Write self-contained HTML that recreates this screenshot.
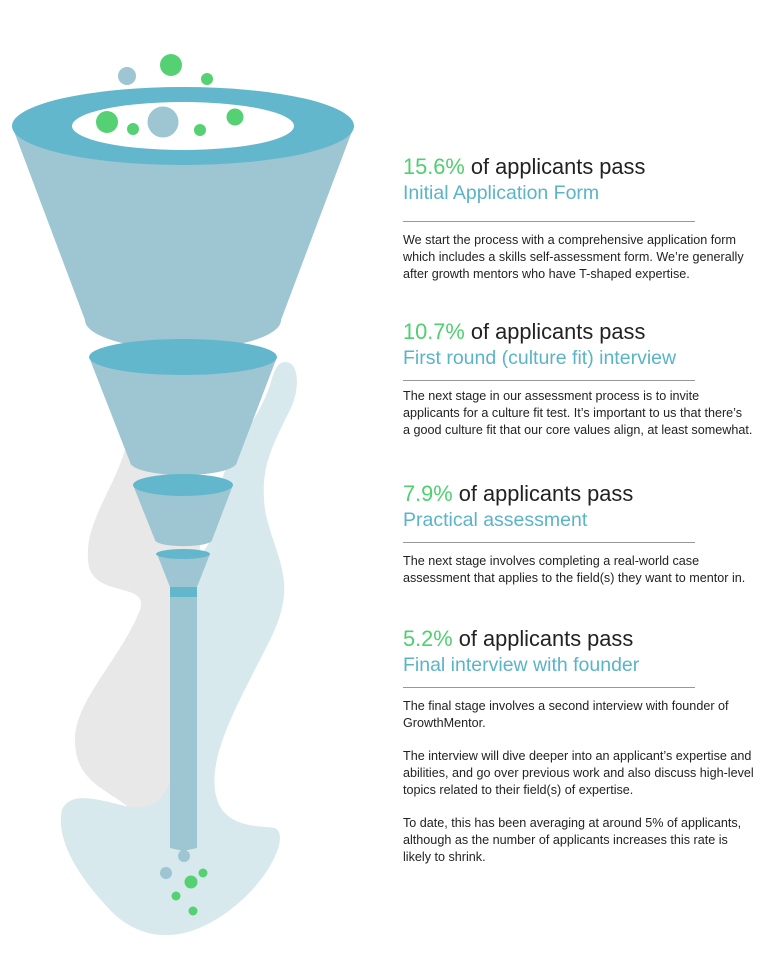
<!DOCTYPE html>
<html><head><meta charset="utf-8"><style>
body{margin:0;width:779px;height:973px;background:#fff;position:relative;overflow:hidden;font-family:"Liberation Sans",sans-serif}
.h{position:absolute;left:403px;font-size:21.8px;line-height:26px;color:#222;white-space:nowrap}
.h b{color:#4fcf6f;font-weight:normal}
.s{position:absolute;left:403px;font-size:19.5px;line-height:24px;color:#5ab4c8;white-space:nowrap}
.l{position:absolute;left:403px;width:292px;height:1px;background:#999}
.p{position:absolute;left:403px;font-size:12.6px;line-height:17px;color:#222;white-space:nowrap}
.p .g{height:16px}
</style></head><body>
<svg width="779" height="973" style="position:absolute;left:0;top:0">
<path d="M128 440 C115 490 85 520 88 560 C90 600 150 580 140 610 C120 660 75 700 75 740 C75 790 120 790 140 820 L200 820 L200 440 Z" fill="#e8e8e8"/>
<path d="M285 362 C300 362 300 390 290 410 C270 450 260 470 265 510 C275 560 300 580 270 640 C240 700 210 750 215 790 C220 830 260 825 275 828 C290 835 270 880 230 910 C190 940 150 945 115 915 C80 880 55 840 62 810 C70 790 100 800 125 806 C150 812 165 800 170 780 L170 600 C200 550 222 540 220 500 C218 460 255 430 270 385 C274 370 278 362 285 362 Z" fill="#d8e9ee"/>
<path d="M12 126 L85 320 A97 29 0 0 0 281 320 L354 126 Z" fill="#9dc5d2"/>
<ellipse cx="183" cy="126" rx="171" ry="39" fill="#62b7cc"/>
<ellipse cx="183" cy="126" rx="111" ry="24" fill="#fff"/>
<path d="M89 357 L130 462 A53 13 0 0 0 237 462 L277 357 Z" fill="#9dc5d2"/>
<ellipse cx="183" cy="357" rx="94" ry="18" fill="#62b7cc"/>
<path d="M133 485 L155 540 A28 6 0 0 0 212 540 L233 485 Z" fill="#9dc5d2"/>
<ellipse cx="183" cy="485" rx="50" ry="11" fill="#62b7cc"/>
<path d="M157 554 L170 587 L197 587 L210 554 Z" fill="#9dc5d2"/>
<ellipse cx="183" cy="554" rx="27" ry="5" fill="#62b7cc"/>
<rect x="170" y="587" width="27" height="10" fill="#62b7cc"/>
<path d="M170 597 L197 597 L197 848 L183 851 L170 848 Z" fill="#9dc5d2"/>
<circle cx="184" cy="856" r="6" fill="#9dc5d2"/>
<circle cx="166" cy="873" r="6" fill="#9dc5d2"/>
<circle cx="191" cy="882" r="6.5" fill="#55d173"/>
<circle cx="203" cy="873" r="4.5" fill="#55d173"/>
<circle cx="176" cy="896" r="4.5" fill="#55d173"/>
<circle cx="193" cy="911" r="4.5" fill="#55d173"/>
<circle cx="127" cy="76" r="9" fill="#9dc5d2"/>
<circle cx="171" cy="65" r="11" fill="#55d173"/>
<circle cx="207" cy="79" r="6" fill="#55d173"/>
<circle cx="107" cy="122" r="11" fill="#55d173"/>
<circle cx="133" cy="129" r="6" fill="#55d173"/>
<circle cx="163" cy="122" r="15.5" fill="#9dc5d2"/>
<circle cx="200" cy="130" r="6" fill="#55d173"/>
<circle cx="235" cy="117" r="8.5" fill="#55d173"/>
</svg>

<div class="h" style="top:154px"><b>15.6%</b> of applicants pass</div>
<div class="s" style="top:181px">Initial Application Form</div>
<div class="l" style="top:221px"></div>
<div class="p" style="top:232px">We start the process with a comprehensive application form<br>which includes a skills self-assessment form. We’re generally<br>after growth mentors who have T-shaped expertise.</div>

<div class="h" style="top:319px"><b>10.7%</b> of applicants pass</div>
<div class="s" style="top:346px">First round (culture fit) interview</div>
<div class="l" style="top:380px"></div>
<div class="p" style="top:388px">The next stage in our assessment process is to invite<br>applicants for a culture fit test. It’s important to us that there’s<br>a good culture fit that our core values align, at least somewhat.</div>

<div class="h" style="top:481px"><b>7.9%</b> of applicants pass</div>
<div class="s" style="top:508px">Practical assessment</div>
<div class="l" style="top:542px"></div>
<div class="p" style="top:553px">The next stage involves completing a real-world case<br>assessment that applies to the field(s) they want to mentor in.</div>

<div class="h" style="top:626px"><b>5.2%</b> of applicants pass</div>
<div class="s" style="top:653px">Final interview with founder</div>
<div class="l" style="top:687px"></div>
<div class="p" style="top:698px">The final stage involves a second interview with founder of<br>GrowthMentor.<div class="g"></div>The interview will dive deeper into an applicant’s expertise and<br>abilities, and go over previous work and also discuss high-level<br>topics related to their field(s) of expertise.<div class="g"></div>To date, this has been averaging at around 5% of applicants,<br>although as the number of applicants increases this rate is<br>likely to shrink.</div>
</body></html>
